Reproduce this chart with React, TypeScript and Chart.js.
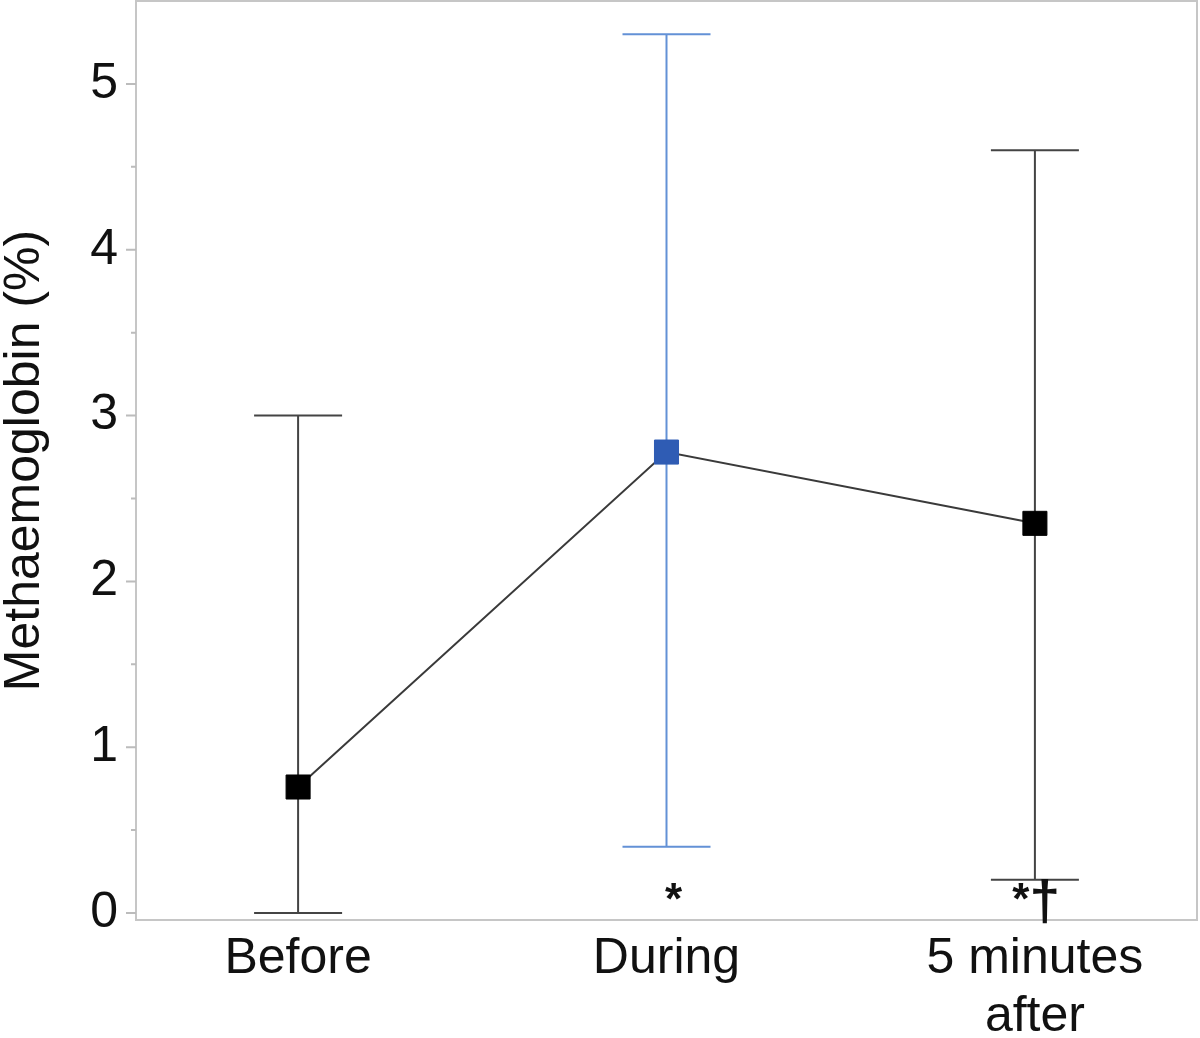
import React, { useEffect, useRef } from "react";
import { Chart, registerables } from "chart.js";

Chart.register(...registerables);

// ---- data ----
const categoryLabels: string[][] = [["Before"], ["During"], ["5 minutes", "after"]];
const means = [0.76, 2.78, 2.35];
const lowerBounds = [0.0, 0.4, 0.2];
const upperBounds = [3.0, 5.3, 4.6];
const significance = ["", "*", "*\u2020"];
const yMajorTicks = [0, 1, 2, 3, 4, 5];
const yMinorTicks = [0.5, 1.5, 2.5, 3.5, 4.5];
const yTitle = "Methaemoglobin (%)";

// ---- styles ----
const pointColors = ["#000000", "#2f5cb4", "#000000"];
const barColors = ["#444444", "#6391d6", "#444444"];
const FONT = "'Liberation Sans', Arial, Helvetica, sans-serif";
const AREA_TOP = 1;
const AREA_RIGHT = 1197;

const decorPlugin = {
  id: "decor",
  afterLayout(chart: any) {
    const a = chart.chartArea;
    a.top = AREA_TOP;
    a.right = AREA_RIGHT;
    a.width = a.right - a.left;
    a.height = a.bottom - a.top;
    const y = chart.scales.y;
    y.top = AREA_TOP;
    y.height = y.bottom - y.top;
    y.configure();
    const x = chart.scales.x;
    x.right = AREA_RIGHT;
    x.width = x.right - x.left;
    x.configure();
  },
  beforeDatasetsDraw(chart: any) {
    const { ctx, chartArea: a, scales } = chart;
    const x = scales.x;
    const y = scales.y;
    ctx.save();
    // frame
    ctx.strokeStyle = "#c6c6c6";
    ctx.lineWidth = 2;
    ctx.strokeRect(a.left, a.top, a.right - a.left, a.bottom - a.top);
    // y tick marks
    ctx.strokeStyle = "#bcbcbc";
    ctx.lineWidth = 2;
    ctx.beginPath();
    yMajorTicks.forEach((v) => {
      const py = y.getPixelForValue(v);
      ctx.moveTo(a.left - 10, py);
      ctx.lineTo(a.left, py);
    });
    yMinorTicks.forEach((v) => {
      const py = y.getPixelForValue(v);
      ctx.moveTo(a.left - 5, py);
      ctx.lineTo(a.left, py);
    });
    ctx.stroke();
    // error bars
    means.forEach((_m, i) => {
      const px = x.getPixelForValue(i);
      const top = y.getPixelForValue(upperBounds[i]);
      const bot = y.getPixelForValue(lowerBounds[i]);
      const cap = 44;
      ctx.strokeStyle = barColors[i];
      ctx.lineWidth = 2;
      ctx.beginPath();
      ctx.moveTo(px, top);
      ctx.lineTo(px, bot);
      ctx.moveTo(px - cap, top);
      ctx.lineTo(px + cap, top);
      ctx.moveTo(px - cap, bot);
      ctx.lineTo(px + cap, bot);
      ctx.stroke();
    });
    ctx.restore();
  },
  afterDatasetsDraw(chart: any) {
    const { ctx, scales } = chart;
    const x = scales.x;
    const y = scales.y;
    ctx.save();
    ctx.fillStyle = "#111111";
    ctx.textBaseline = "alphabetic";
    ctx.textAlign = "center";
    significance.forEach((s, i) => {
      if (!s) return;
      const px = x.getPixelForValue(i);
      const base = y.getPixelForValue(0) + 1;
      const chars = Array.from(s);
      if (chars.length === 1) {
        ctx.font = `bold 44px ${FONT}`;
        ctx.fillText(s, px + 7, base);
        return;
      }
      // asterisk then dagger
      ctx.font = `bold 44px ${FONT}`;
      ctx.fillText(chars[0], px - 14, base);
      ctx.font = `bold 55px ${FONT}`;
      ctx.fillText(chars[1], px + 10, base + 5);
    });
    ctx.restore();
  },
};

export default function App() {
  const canvasRef = useRef<HTMLCanvasElement | null>(null);

  useEffect(() => {
    if (!canvasRef.current) return;
    Chart.defaults.font.family = FONT;
    const chart = new Chart(canvasRef.current, {
      type: "scatter",
      data: {
        datasets: [
          {
            data: means.map((m, i) => ({ x: i, y: m })),
            showLine: true,
            borderColor: "#3a3a3a",
            borderWidth: 2,
            pointStyle: "rect",
            pointRadius: 17,
            pointHoverRadius: 17,
            pointBackgroundColor: pointColors,
            pointBorderColor: pointColors,
            pointBorderWidth: 1,
          } as any,
        ],
      },
      options: {
        animation: false,
        responsive: false,
        devicePixelRatio: 1,
        layout: { padding: { top: 1, right: 3, left: 0, bottom: 0 } },
        plugins: {
          legend: { display: false },
          tooltip: { enabled: false },
        },
        scales: {
          x: {
            type: "linear",
            min: -0.44,
            max: 2.44,
            grid: { display: false, drawTicks: false },
            border: { display: false },
            afterBuildTicks: (scale: any) => {
              scale.ticks = categoryLabels.map((_c, i) => ({ value: i }));
            },
            afterFit: (scale: any) => {
              scale.height = 118;
            },
            ticks: {
              autoSkip: false,
              maxRotation: 0,
              padding: 10,
              color: "#111111",
              font: { size: 50, lineHeight: 1.16 },
              callback: (v: any) => {
                const lbl = categoryLabels[Math.round(Number(v))];
                return lbl ? (lbl.length === 1 ? lbl[0] : lbl) : "";
              },
            },
          },
          y: {
            type: "linear",
            min: -0.042,
            max: 5.5,
            grid: { display: false, drawTicks: false },
            border: { display: false },
            afterBuildTicks: (scale: any) => {
              scale.ticks = yMajorTicks.map((v) => ({ value: v }));
            },
            afterFit: (scale: any) => {
              scale.width = 136;
            },
            ticks: {
              padding: 18,
              color: "#111111",
              font: { size: 50 },
              callback: (v: any) => String(v),
            },
            title: {
              display: true,
              text: yTitle,
              color: "#111111",
              font: { size: 50, lineHeight: 1 },
              padding: { top: 0, bottom: 0 },
            },
          },
        },
      },
      plugins: [decorPlugin],
    });
    return () => chart.destroy();
  }, []);

  return (
    <div style={{ position: "absolute", left: 0, top: 0, width: 1200, height: 1038, background: "#ffffff" }}>
      <canvas ref={canvasRef} width={1200} height={1038} style={{ width: 1200, height: 1038 }} />
    </div>
  );
}
